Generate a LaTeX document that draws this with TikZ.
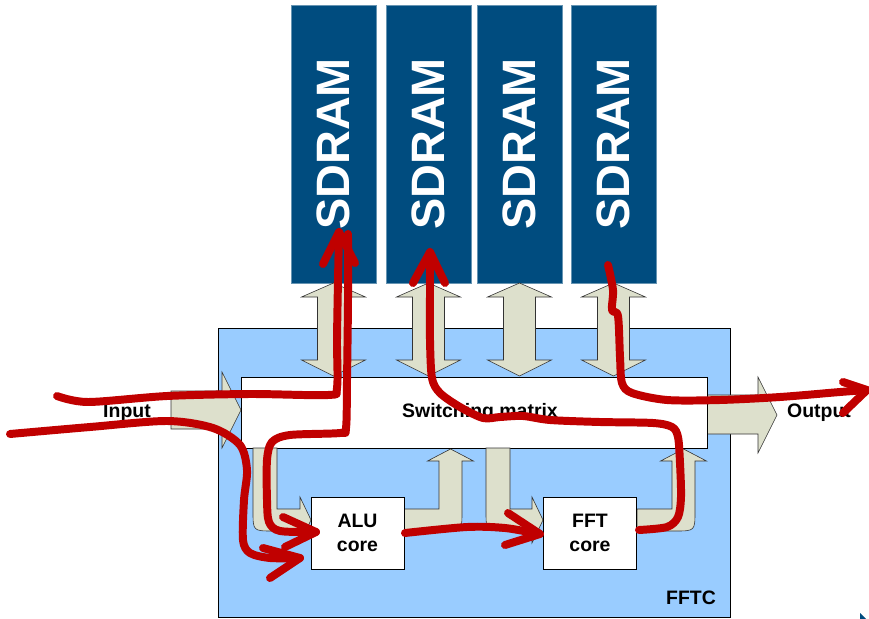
\documentclass[tikz,border=0pt]{standalone}
\usepackage{fontspec}
\setmainfont{Liberation Sans}
\definecolor{sdblue}{RGB}{0,76,127}
\definecolor{fftcblue}{RGB}{153,204,255}
\definecolor{busfill}{RGB}{221,224,204}
\definecolor{penred}{RGB}{192,0,0}
\begin{document}
\begin{tikzpicture}[x=.03cm,y=-.03cm,line width=.6pt,font=\fontsize{16.6}{20.4}\selectfont\bfseries,
  bus/.style={fill=busfill,draw=black!80,line width=.5pt},
  sdram/.style={fill=sdblue,draw=sdblue!60!white,rotate=90,minimum width=8.34cm,minimum height=2.55cm,text=white,font=\fontsize{40}{40}\selectfont\bfseries},
  core/.style={draw,fill=white,minimum width=2.79cm,minimum height=2.16cm,align=center,inner sep=0pt},
  pen/.style={draw=penred,line width=6.8pt,line cap=round,line join=round}]
\useasboundingbox (0,0) rectangle (869,619);
% FFTC block
\draw[fill=fftcblue] (218,328) rectangle (730,617);
\node[anchor=base] (fftc) at (691,604) {FFTC};
% SDRAMs and their buses
\foreach \c [count=\i] in {333.5,428.5,519.5,613.5}{
  \node[sdram] (sd\i) at (\c,144) {SDRAM};
  \draw[bus] (\c,283)--(\c+32,297)--(\c+16,297)--(\c+16,360)--(\c+32,360)--(\c,376)--(\c-32,360)--(\c-16,360)--(\c-16,297)--(\c-32,297)--cycle;
}
% input / output
\draw[bus] (171,391)--(222,391)--(222,372)--(241,410)--(222,448)--(222,429)--(171,429)--cycle;
\draw[bus] (707,395)--(758,395)--(758,377)--(777,415)--(758,453)--(758,434)--(707,434)--cycle;
\node[anchor=base] (in) at (127,417) {Input};\node[anchor=base] (out) at (819,417) {Output};
% switching matrix
\node[draw,fill=white,minimum width=13.98cm,minimum height=2.13cm] (sw) at (474,412.5) {};
\node[anchor=base] (swl) at (480,417) {Switching matrix};
% bent buses
\foreach \l/\b in {253/311,486/543}
  \draw[bus] (\l+24,448)--(\l+24,509)--(\b-11,509)--(\b-11,497)--(\b,520)--(\b-11,543)--(\b-11,531)--(\l+20,531) .. controls (\l,531) .. (\l,511)--(\l,448)--cycle;
\foreach \r/\x in {404/439,637/672}
  \draw[bus] (\r,509)--(\x,509)--(\x,461)--(\x-11.5,461)--(\x+11.5,449)--(\x+34.5,461)--(\x+23,461)--(\x+23,511) .. controls (\x+23,531) .. (\x+3,531)--(\r,531)--cycle;
% cores
\node[core] (alu) at (357.5,533) {ALU\\core};
\node[core] (fft) at (590,533) {FFT\\core};
\fill[sdblue] (860,613)--(860,619)--(866,619)--cycle;
% hand drawn data paths
\draw[pen] plot[smooth,tension=.5] coordinates {(57,396) (88,402) (167,396) (250,394) (328,395) (337,388) (337,340) (338,280) (339,234)};
\draw[pen] (323,264)--(339,232)--(355,263);
\draw[pen] plot[smooth,tension=.5] coordinates {(348,234) (348,300) (347,380) (346,428) (340,433) (290,435) (272,442) (267,460) (267,500) (269,522) (280,531) (316,532)};
\draw[pen] (283,517)--(316,532)--(285,547);
\draw[pen] plot[smooth,tension=.5] coordinates {(10,434) (90,427) (167,421) (213,428) (240,445) (247,470) (244,500) (243,540) (250,553) (270,558) (300,558)};
\draw[pen] (263,548)--(300,558)--(270,578);
\draw[pen] plot[smooth,tension=.5] coordinates {(405,533) (467,527) (505,528) (539,534)};
\draw[pen] (508,513)--(540,534)--(505,545);
\draw[pen] plot[smooth,tension=.5] coordinates {(639,530) (667,527) (678,517) (681,497) (680,463) (678,437) (672,427) (653,423) (600,422) (550,420) (523,416) (500,417) (483,418) (460,407) (440,393) (432,378) (430,340) (430,290) (430,253)};
\draw[pen] (413,283)--(430,252)--(445,283);
\draw[pen] plot[smooth,tension=.5] coordinates {(608,265) (613,290) (612,310) (618,316) (620,357) (622,383) (632,393) (667,400) (720,400) (780,397) (840,392) (867,390)};
\draw[pen] (843,382)--(867,390)--(843,413);
\end{tikzpicture}
\end{document}
